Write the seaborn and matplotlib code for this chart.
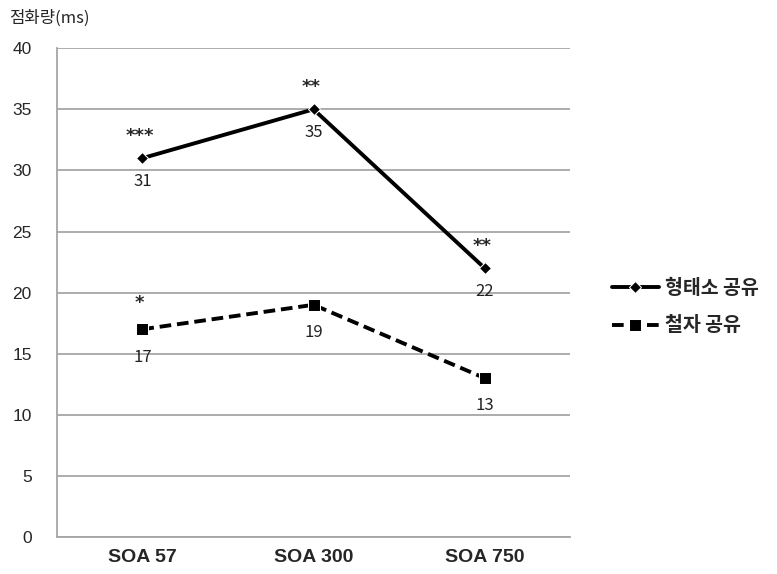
import numpy as np
import pandas as pd
import matplotlib
matplotlib.use("Agg")
import matplotlib.pyplot as plt
import seaborn as sns

categories = ["SOA 57", "SOA 300", "SOA 750"]
morph = [31, 35, 22]
ortho = [17, 19, 13]
morph_sig = ["***", "**", "**"]
ortho_sig = ["*", "", ""]
series_names = ["형태소 공유", "철자 공유"]

sns.set_style("white")
plt.rcParams['font.family'] = ['Noto Sans CJK KR', 'DejaVu Sans']

df = pd.DataFrame({
    "x": list(range(len(categories))) * 2,
    "y": morph + ortho,
    "series": [series_names[0]] * 3 + [series_names[1]] * 3,
})

fig = plt.figure(figsize=(7.77, 5.74), dpi=100)
ax = fig.add_axes([0.073, 0.0645, 0.661, 0.8515])

m = df[df.series == series_names[0]]
o = df[df.series == series_names[1]]
sns.lineplot(data=m, x="x", y="y", ax=ax, color="black", lw=2.8,
             marker="D", markersize=6, label=series_names[0])
sns.lineplot(data=o, x="x", y="y", ax=ax, color="black", lw=2.8,
             linestyle=(0, (3, 1.5)), marker="s", markersize=8,
             label=series_names[1])

for i, v in enumerate(morph):
    ax.annotate(str(v), (i, v), xytext=(0, -17), textcoords="offset points",
                ha="center", va="center", fontsize=12, color="#222222")
    ax.annotate(morph_sig[i], (i, v), xytext=(-2, 16), textcoords="offset points",
                ha="center", va="center", fontsize=13, fontweight="bold",
                family="DejaVu Sans")
for i, v in enumerate(ortho):
    ax.annotate(str(v), (i, v), xytext=(0, -20), textcoords="offset points",
                ha="center", va="center", fontsize=12, color="#222222")
    if ortho_sig[i]:
        ax.annotate(ortho_sig[i], (i, v), xytext=(-2, 19), textcoords="offset points",
                    ha="center", va="center", fontsize=13, fontweight="bold",
                    family="DejaVu Sans")

ax.set_xlim(-0.5, 2.5)
ax.set_ylim(0, 40)
ax.set_yticks(range(0, 41, 5))
ax.set_xticks(range(len(categories)))
ax.set_xticklabels(categories, fontsize=14, fontweight="bold",
                   family="Liberation Sans")
for t in ax.get_yticklabels():
    t.set_family("Liberation Sans")
    t.set_fontsize(12.5)
ax.tick_params(axis="x", length=0, pad=9)
ax.tick_params(axis="y", length=0, pad=18)
ax.set_xlabel("")
ax.set_ylabel("")
ax.yaxis.grid(True, color="#a6a6a6", lw=1.3)
ax.set_axisbelow(True)
for s in ["top", "right"]:
    ax.spines[s].set_visible(False)
for s in ["left", "bottom"]:
    ax.spines[s].set_color("#a6a6a6")
    ax.spines[s].set_linewidth(1.3)

fig.text(0.012, 0.968, "점화량(ms)", fontsize=12, ha="left", va="center")

ax.legend(loc="center left", bbox_to_anchor=(0.765, 0.465),
          bbox_transform=fig.transFigure, frameon=False,
          prop={"size": 14, "weight": "bold"},
          handlelength=2.4, labelspacing=0.95, handletextpad=0.35)

fig.savefig("out.png", dpi=100)
